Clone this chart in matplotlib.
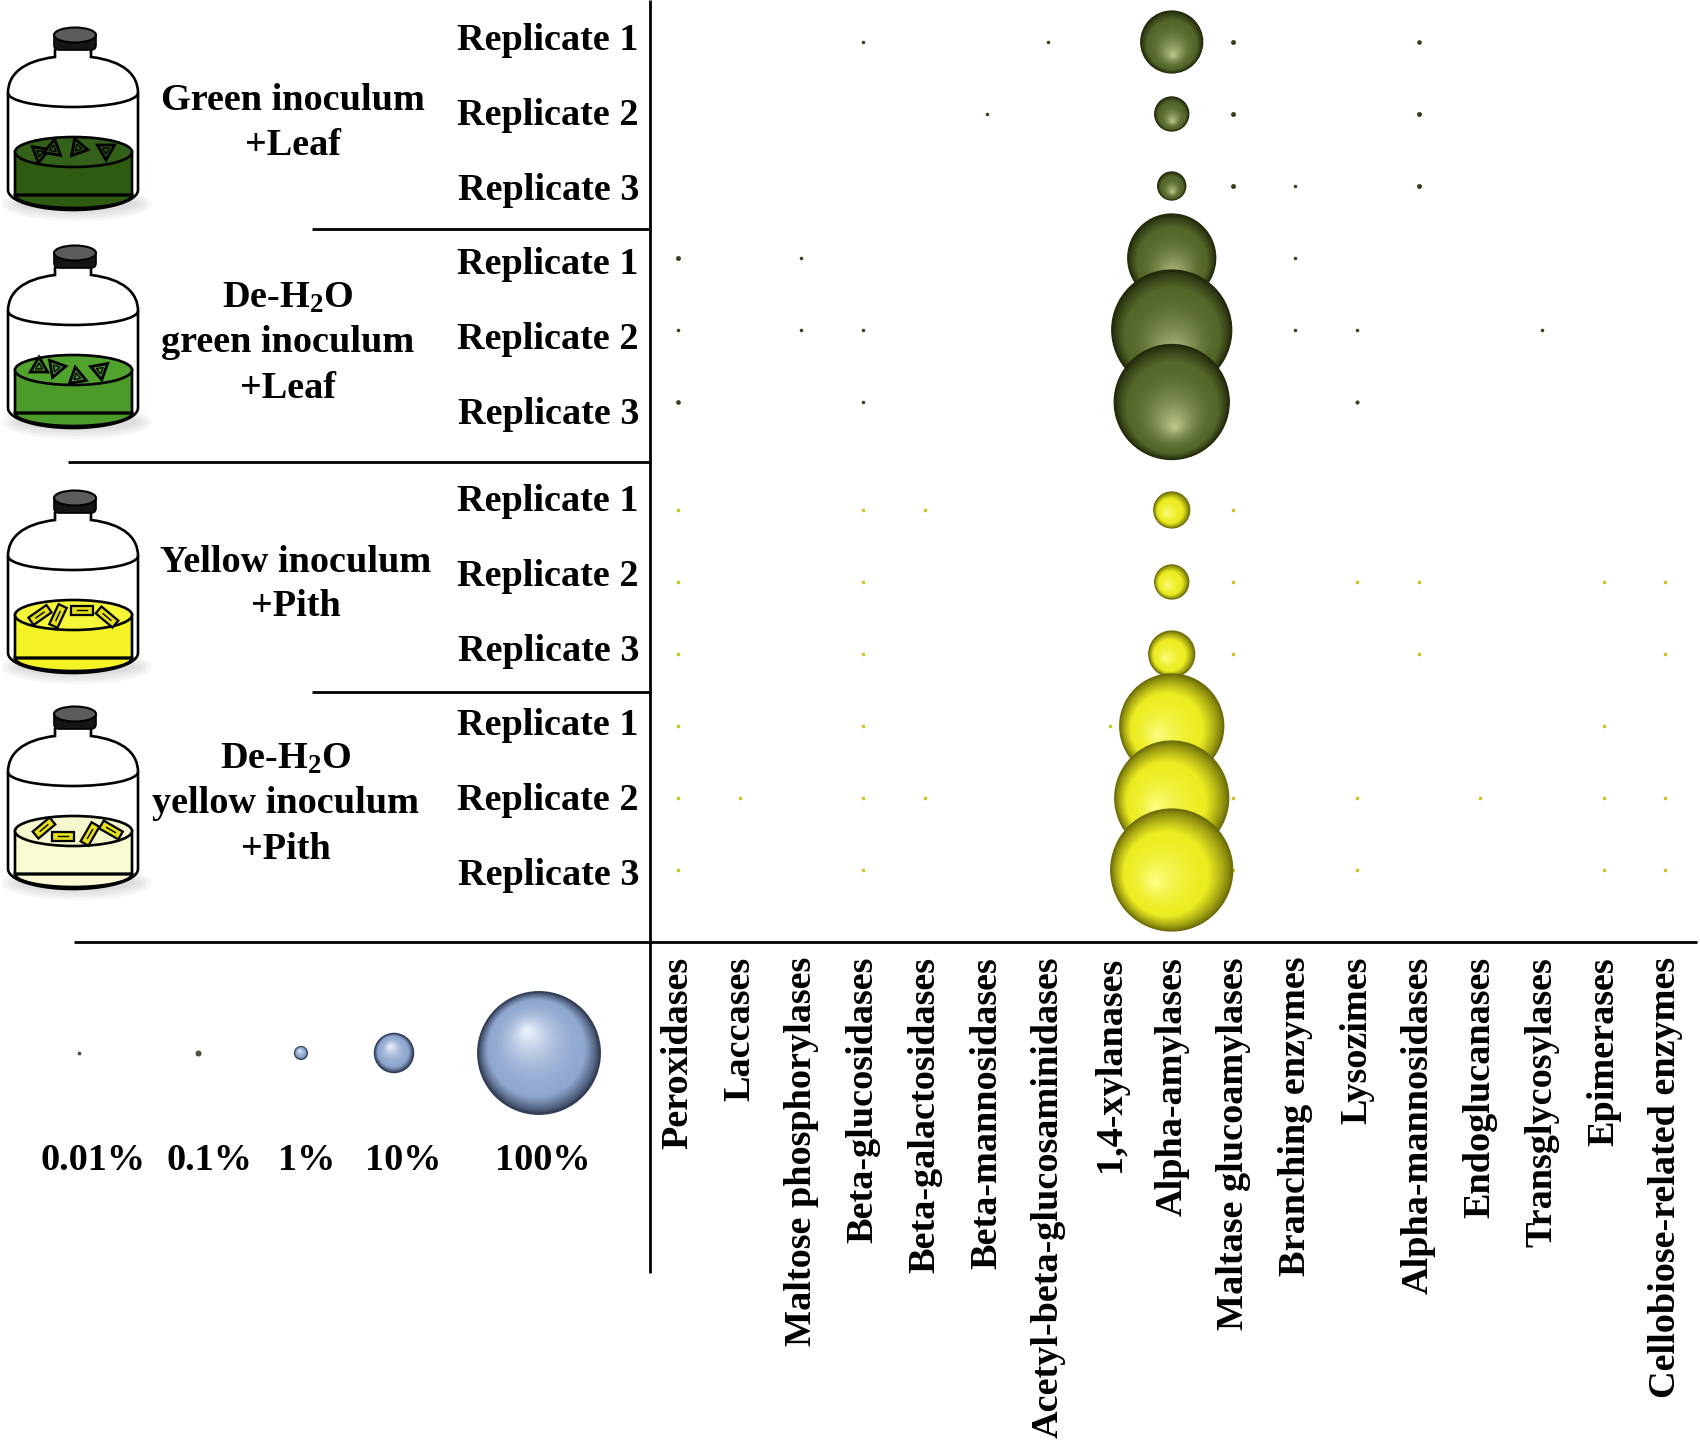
import numpy as np
import matplotlib.pyplot as plt
from matplotlib.patches import Ellipse, Arc, Polygon, PathPatch, FancyBboxPatch
from matplotlib.path import Path
from matplotlib.colors import to_rgb

plt.rcParams['font.family'] = ['Liberation Serif', 'DejaVu Serif']
plt.rcParams['font.weight'] = 'bold'
plt.rcParams['mathtext.default'] = 'regular'

# ---- data ----
enzymes = ["Peroxidases", "Laccases", "Maltose phosphorylases", "Beta-glucosidases",
           "Beta-galactosidases", "Beta-mannosidases", "Acetyl-beta-glucosaminidases",
           "1,4-xylanases", "Alpha-amylases", "Maltase glucoamylases", "Branching enzymes",
           "Lysozimes", "Alpha-mannosidases", "Endoglucanases", "Transglycosylases",
           "Epimerases", "Cellobiose-related enzymes"]
replicates = ["Replicate 1", "Replicate 2", "Replicate 3"]
group_names = [["Green inoculum", "+Leaf"],
               ["De-H$_2$O", "green inoculum", "+Leaf"],
               ["Yellow inoculum", "+Pith"],
               ["De-H$_2$O", "yellow inoculum", "+Pith"]]

# relative abundance (%), one row per replicate, one value per enzyme
green_leaf = [
    [0, 0, 0, 0.02, 0, 0, 0.02, 0, 25.8, 0.13, 0, 0, 0.11, 0, 0, 0, 0],
    [0, 0, 0, 0, 0, 0.02, 0, 0, 7.8, 0.13, 0, 0, 0.13, 0, 0, 0, 0],
    [0, 0, 0, 0, 0, 0, 0, 0, 5.3, 0.13, 0.03, 0, 0.13, 0, 0, 0, 0],
]
deh2o_green_leaf = [
    [0.13, 0, 0.03, 0, 0, 0, 0, 0, 52.0, 0, 0.03, 0, 0, 0, 0, 0, 0],
    [0.02, 0, 0.03, 0.03, 0, 0, 0, 0, 96.7, 0, 0.03, 0.03, 0, 0, 0.02, 0, 0],
    [0.11, 0, 0, 0.03, 0, 0, 0, 0, 88.9, 0, 0, 0.08, 0, 0, 0, 0, 0],
]
yellow_pith = [
    [0.02, 0, 0, 0.02, 0.02, 0, 0, 0, 8.7, 0.03, 0, 0, 0, 0, 0, 0, 0],
    [0.05, 0, 0, 0.05, 0, 0, 0, 0, 7.8, 0.03, 0, 0.02, 0.02, 0, 0, 0.02, 0.02],
    [0.02, 0, 0, 0.03, 0, 0, 0, 0, 14.2, 0.02, 0, 0, 0.06, 0, 0, 0, 0.02],
]
deh2o_yellow_pith = [
    [0.05, 0, 0, 0.02, 0, 0, 0, 0.02, 72.7, 0, 0, 0, 0, 0, 0, 0.06, 0],
    [0.03, 0.02, 0, 0.02, 0.02, 0, 0, 0, 87.3, 0.02, 0, 0.02, 0, 0.02, 0, 0.02, 0.02],
    [0.03, 0, 0, 0.02, 0, 0, 0, 0, 100.0, 0.02, 0, 0.02, 0, 0, 0, 0.02, 0.02],
]
legend_values = [0.01, 0.1, 1, 10, 100]
legend_labels = ["0.01%", "0.1%", "1%", "10%", "100%"]

groups = [green_leaf, deh2o_green_leaf, yellow_pith, deh2o_yellow_pith]

# ---- styles ----
FS = 27.5
W, H = 1700, 1450
GREEN = ('#222a0b', '#55662a', '#c2cf90')
YELLOW = ('#6e6e08', '#ecec22', '#ffff8c')
BLUE = ('#34405a', '#90a8d0', '#f4f8ff')
# (colours, dot colour, highlight direction, width of dark rim)
group_style = [(GREEN, '#353f1c', (0.05, 0.45), 0.2), (GREEN, '#353f1c', (0.05, 0.45), 0.2),
               (YELLOW, '#c4c414', (-0.3, 0.2), 0.3), (YELLOW, '#c4c414', (-0.3, 0.2), 0.3)]
liquids = [('#2f5a12', '#33611a'), ('#4c9a2a', '#52a22e'),
           ('#f3f326', '#f6f63a'), ('#fafad2', '#f7f7cd')]
bottle_tops = [27, 245, 490, 706]
bits = [[(40, 126, -20), (53, 122, 40), (78, 121, 10), (106, 123, -30)],
        [(39, 122, 30), (56, 123, -10), (77, 132, 20), (100, 125, -40)],
        [(40, 125, -35), (58, 126, -65), (82, 120, 0), (107, 127, 40)],
        [(44, 122, -40), (63, 130, 0), (90, 128, -60), (111, 124, 30)]]


def radius_px(v):
    # bubble area proportional to abundance, 100% -> 61 px radius
    return max(61 * np.sqrt(v / 100.0), 1.5)


def sphere(a, x, y, r, ux, uy, cols3, hl, rim=0.2, n=45, edge=0.9):
    dark, base, light = [np.array(to_rgb(c)) for c in cols3]
    t = np.linspace(0, 0.97, n)
    cs = []
    for tt in t:
        if tt < rim:
            cs.append(dark + (base - dark) * (tt / rim) ** 0.8)
        else:
            cs.append(base + (light - base) * ((tt - rim) / (1 - rim)) ** 1.8)
    rk = r * (1 - t)
    xs = x + hl[0] * r * t / ux
    ys = y + hl[1] * r * t / uy
    lws = [edge] + [0] * (n - 1)
    a.scatter(xs, ys, s=(2 * rk * 0.72) ** 2, c=cs, edgecolors=[dark] * n,
              linewidths=lws, zorder=3, clip_on=False)


def bottle(a, top, fill, fill_top, pieces, kind):
    for k in range(4):
        a.add_patch(Ellipse((77, top + 177), 150 - 10 * k, 34 - 6 * k, color='0.55',
                            alpha=0.08, lw=0, zorder=1))
    th = np.linspace(np.pi, 0, 40)
    verts = [(55, top + 22), (55, top + 30), (22, top + 34), (8, top + 48), (8, top + 66)]
    codes = [Path.MOVETO, Path.LINETO, Path.CURVE4, Path.CURVE4, Path.CURVE4]
    verts += list(zip(73 + 65 * np.cos(th), top + 163 + 20 * np.sin(th)))
    codes += [Path.LINETO] * len(th)
    verts += [(138, top + 66), (138, top + 48), (124, top + 34), (91, top + 30), (91, top + 22)]
    codes += [Path.LINETO, Path.CURVE4, Path.CURVE4, Path.CURVE4, Path.LINETO]
    a.add_patch(PathPatch(Path(verts, codes), fc='white', ec='black', lw=1.9, zorder=2))
    a.add_patch(Arc((73, top + 66), 130, 28, theta1=0, theta2=180, color='black', lw=1.9, zorder=2))
    a.add_patch(Arc((73, top + 164), 124, 32, theta1=8, theta2=172, color='0.45', lw=1.2, zorder=2))
    # liquid
    v2 = [(15, top + 125), (15, top + 168)]
    v2 += list(zip(73.5 + 58.5 * np.cos(th[::-1]), top + 168 + 13 * np.sin(th[::-1])))
    v2 += [(132, top + 168), (132, top + 125)]
    a.add_patch(Polygon(v2, closed=True, fc=fill, ec='black', lw=1.9, zorder=3))
    a.add_patch(Ellipse((73.5, top + 125), 117, 30, fc=fill_top, ec='black', lw=1.9, zorder=4))
    for cx, cy, ang in pieces:
        ang = np.radians(ang)
        if kind == 'leaf':
            pts = [(cx + 10 * np.cos(ang + k * 2 * np.pi / 3), top + cy + 10 * np.sin(ang + k * 2 * np.pi / 3))
                   for k in range(3)]
            a.add_patch(Polygon(pts, closed=True, fc=fill, ec='black', lw=2.0, zorder=5))
            inner = [(cx + 4 * np.cos(ang + k * 2 * np.pi / 3), top + cy + 4 * np.sin(ang + k * 2 * np.pi / 3))
                     for k in range(3)]
            a.add_patch(Polygon(inner, closed=True, fc='none', ec='black', lw=1.0, zorder=5))
        else:
            d = np.array([np.cos(ang), np.sin(ang)])
            p = np.array([-d[1], d[0]])
            c0 = np.array([cx, top + cy])
            pts = [c0 + 11 * d + 4.5 * p, c0 - 11 * d + 4.5 * p, c0 - 11 * d - 4.5 * p, c0 + 11 * d - 4.5 * p]
            a.add_patch(Polygon(pts, closed=True, fc='#e4de1c', ec='black', lw=1.6, zorder=5))
            a.plot([c0[0] - 5 * d[0], c0[0] + 5 * d[0]], [c0[1] - 5 * d[1], c0[1] + 5 * d[1]],
                   color='black', lw=1.0, zorder=6)
    # cap
    a.add_patch(FancyBboxPatch((54, top + 5), 42, 18, boxstyle='round,pad=0,rounding_size=5',
                               fc='#151515', ec='black', lw=1.2, zorder=6))
    a.add_patch(Ellipse((75, top + 8), 42, 15, fc='#5c5c5c', ec='black', lw=1.5, zorder=7))


fig = plt.figure(figsize=(17, 14.5), dpi=100)
bg = fig.add_axes([0, 0, 1, 1])
bg.set_xlim(0, W)
bg.set_ylim(H, 0)
bg.set_axis_off()

ax = fig.add_axes([650 / W, 1 - 942 / H, 1050 / W, 942 / H])
ax.patch.set_alpha(0)
x0, x1 = -0.454, 16.56
y0, y1 = 12.5, -0.583
ax.set_xlim(x0, x1)
ax.set_ylim(y0, y1)
ux = 1050 / (x1 - x0)
uy = 942 / (y0 - y1)

# bubbles
for g, data in enumerate(groups):
    cols3, dotc, hl, rim = group_style[g]
    for ri, vals in enumerate(data):
        y = g * 3 + ri + (0.5 if g >= 2 else 0)
        for j, v in enumerate(vals):
            if v <= 0:
                continue
            rp = radius_px(v)
            if rp > 4:
                sphere(ax, j, y, rp, ux, uy, cols3, hl, rim=rim)
            else:
                ax.scatter([j], [y], s=(2 * rp * 0.72) ** 2, color=dotc, edgecolors=dotc,
                           lw=0.4, zorder=2)

ax.set_xticks(range(len(enzymes)))
ax.set_xticklabels(enzymes, rotation=90, fontsize=FS, fontweight='bold')
ax.tick_params(axis='x', length=0, pad=10.8)
ax.set_yticks([])
for s in ax.spines.values():
    s.set_visible(False)

# frame lines
lk = dict(color='black', lw=2.0, solid_capstyle='butt')
bg.plot([650, 650], [0, 1273], **lk)
bg.plot([74, 1697], [942, 942], **lk)
bg.plot([312, 650], [229, 229], **lk)
bg.plot([68, 650], [462, 462], **lk)
bg.plot([312, 650], [692, 692], **lk)

# replicate labels
rep_base = [50 + 74.8 * k for k in range(6)] + [510.7 + 74.9 * k for k in range(6)]
for i, yb in enumerate(rep_base):
    bg.text(639, yb, replicates[i % 3], fontsize=FS, fontweight='bold', ha='right', va='baseline')

# group labels
label_base = [[110, 155], [308, 352, 398], [572, 616], [769, 813, 859]]
label_cx = [293, 288, 296, 286]
for g, lines in enumerate(group_names):
    for txt, yb in zip(lines, label_base[g]):
        bg.text(label_cx[g], yb, txt, fontsize=FS, fontweight='bold', ha='center', va='baseline')

# bottles
for g in range(4):
    kind = 'leaf' if g < 2 else 'pith'
    bottle(bg, bottle_tops[g], liquids[g][0], liquids[g][1], bits[g], kind)

# size legend
leg_x = [79, 198, 301, 394, 539]
lab_x = [93, 210, 307, 403, 543]
for v, lx, tx, lab in zip(legend_values, leg_x, lab_x, legend_labels):
    rp = radius_px(v)
    if rp > 4:
        sphere(bg, lx, 1053, rp, 1, 1, BLUE, (-0.2, -0.38), edge=1.4)
    else:
        rr = 2.6 if v >= 0.1 else 1.5
        bg.scatter([lx], [1053], s=(2 * rr * 0.72) ** 2, color='#4f5344', edgecolors='#3a3d30',
                   lw=0.5, zorder=3)
    bg.text(tx, 1170, lab, fontsize=FS, fontweight='bold', ha='center', va='baseline')

fig.savefig('out.png', dpi=100)
